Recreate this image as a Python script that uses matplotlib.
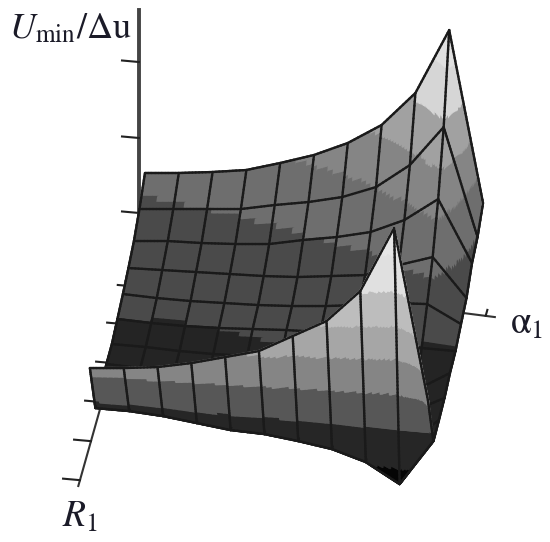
import numpy as np
import matplotlib
matplotlib.use('Agg')
import matplotlib.pyplot as plt
from mpl_toolkits.mplot3d import proj3d
from mpl_toolkits.mplot3d.art3d import Poly3DCollection

plt.rcParams['mathtext.fontset'] = 'stix'
plt.rcParams['font.family'] = 'Liberation Serif'

# surface heights, rows along R1, columns along alpha1
alpha1 = np.arange(11)
R1 = np.arange(11)
U = np.array([
    [99, 102, 106, 111, 121, 132, 147, 168, 203, 269, 99],
    [82.5, 85.5, 88.5, 91.5, 98.5, 104.5, 112.5, 125.5, 150.5, 191.5, 84.5],
    [70, 73, 74, 76, 79, 86, 92, 100, 115, 139, 78],
    [62.5, 63.5, 64.5, 65.5, 66.5, 68.5, 72.5, 76.5, 89.5, 100.5, 62.5],
    [56, 55, 55, 56, 57, 59, 62, 66, 71, 73, 56],
    [50.5, 49.5, 49.5, 50.5, 52.5, 54.5, 55.5, 55.5, 53.5, 48.5, 48.5],
    [45, 45, 44, 44, 45, 46, 47, 45, 38, 26, 46],
    [44.5, 43.5, 42.5, 41.5, 40.5, 38.5, 36.5, 33.5, 29.5, 23.5, 40.5],
    [42, 41, 40, 39, 37, 35, 32, 27, 20, 10, 38],
    [39.5, 39.5, 37.5, 33.5, 29.5, 28.5, 24.5, 19.5, 9.5, -9.5, 36.5],
    [99, 102, 106, 113, 122, 131, 149, 167, 200, 266, 97],
])

band_edges = [8, 50, 88, 126, 162, 200, 240]
back_grays = [0.02, 0.14, 0.29, 0.43, 0.52, 0.63, 0.84, 0.88]
# the last strip of cells faces the light and comes out brighter
front_grays = [0.02, 0.15, 0.34, 0.52, 0.65, 0.74, 0.88, 0.9]

U_ticks = [58.5, 133.5, 209.5]
R_ticks = [0.77, 2.7, 4.7, 6.7, 8.7, 10.7]

elev = 34.1
azim = -81.0
box_x, box_y, box_z = 342.0, 352.0, 362.0
zmax = 300.0

fig = plt.figure(figsize=(5.5, 5.42), dpi=100)
ax = fig.add_axes([0, 0, 1, 1], projection='3d', proj_type='ortho')
ax.computed_zorder = False
ax.view_init(elev=elev, azim=azim)
ax.set_xlim(0, 10)
ax.set_ylim(10, 0)
ax.set_zlim(0, zmax)
ax.set_box_aspect((box_x, box_y, box_z))
ax.set_axis_off()

# each mesh cell is split so the height bands can run across it, steep cells get more pieces
polys = []
colors = []
for j in range(len(R1) - 1):
    grays = front_grays if j == len(R1) - 2 else back_grays
    for i in range(len(alpha1) - 1):
        z00, z10, z01, z11 = U[j, i], U[j, i + 1], U[j + 1, i], U[j + 1, i + 1]
        na = int(np.clip(max(abs(z10 - z00), abs(z11 - z01)) / 3, 6, 50))
        nb = int(np.clip(max(abs(z01 - z00), abs(z11 - z10)) / 3, 6, 70))
        ta = np.linspace(0, 1, na + 1)
        tb = np.linspace(0, 1, nb + 1)
        for b in range(nb):
            for a in range(na):
                q = []
                for (u, v) in [(ta[a], tb[b]), (ta[a + 1], tb[b]), (ta[a + 1], tb[b + 1]), (ta[a], tb[b + 1])]:
                    zz = z00 * (1 - u) * (1 - v) + z10 * u * (1 - v) + z01 * (1 - u) * v + z11 * u * v
                    q.append((alpha1[i] + u, R1[j] + v, zz))
                zmean = np.mean([p[2] for p in q])
                g = grays[np.searchsorted(band_edges, zmean)]
                polys.append(q)
                colors.append((g, g, g, 1))

# mesh lines go in the same collection, nudged towards the eye so depth sorting hides them properly
d = 8.0
er = np.radians(elev)
ar = np.radians(azim)
off = np.array([np.cos(er) * np.cos(ar) * d / 34.2, -np.cos(er) * np.sin(ar) * d / 35.2, np.sin(er) * d / 1.208])
line_col = (0.1, 0.1, 0.1, 1)


def add_mesh_edge(x0, y0, z0, x1, y1, z1):
    n = int(np.clip(abs(z1 - z0) / 3, 10, 70))
    t = np.linspace(0, 1, n + 1)
    for a in range(n):
        p = np.array([x0 + (x1 - x0) * t[a], y0 + (y1 - y0) * t[a], z0 + (z1 - z0) * t[a]]) + off
        r = np.array([x0 + (x1 - x0) * t[a + 1], y0 + (y1 - y0) * t[a + 1], z0 + (z1 - z0) * t[a + 1]]) + off
        polys.append([tuple(p), tuple(r), tuple(r), tuple(p)])
        colors.append(line_col)


for j in range(len(R1)):
    for i in range(len(alpha1) - 1):
        add_mesh_edge(alpha1[i], R1[j], U[j, i], alpha1[i + 1], R1[j], U[j, i + 1])
for i in range(len(alpha1)):
    for j in range(len(R1) - 1):
        add_mesh_edge(alpha1[i], R1[j], U[j, i], alpha1[i], R1[j + 1], U[j + 1, i])

surf = Poly3DCollection(polys, facecolors=colors, edgecolors=colors, linewidths=1.7,
                        joinstyle='round', capstyle='round', zorder=3, clip_on=False)
ax.add_collection3d(surf, autolim=False)

# axes drawn by hand, the box of the 3D axes is off
ax0 = -0.18
ax.plot([ax0, ax0], [0, 0], [0, 262], color='#444444', lw=2.8, zorder=1, clip_on=False)
ax.plot([ax0, ax0], [0, 11], [0, 0], color='#333333', lw=1.5, zorder=1, clip_on=False)
ax.plot([ax0, 10.35], [0, 0], [0, -14], color='#333333', lw=1.5, zorder=1, clip_on=False)
for v in U_ticks:
    ax.plot([ax0, ax0 - 0.5], [0, 0], [v, v], color='#222222', lw=1.5, zorder=1, clip_on=False)
for v in R_ticks:
    ax.plot([ax0, ax0 - 0.5], [v, v], [0, 0], color='#222222', lw=1.5, zorder=1, clip_on=False)
ax.plot([10.08, 10.08], [0, -0.3], [-13.5, -13.5], color='#222222', lw=1.5, zorder=1, clip_on=False)

# put the axes so that the mesh lands at the right pixels
fig.canvas.draw()


def to_px(x, y, z):
    px, py, _ = proj3d.proj_transform(x, y, z, ax.get_proj())
    return ax.transData.transform((px, py))


p0 = to_px(0, 0, 0)
p1 = to_px(10, 0, 0)
s = (483.0 - 145.0) / (p1[0] - p0[0])
bb = ax.get_position()
w = 550.0
h = 542.0
S0 = min(bb.width * w, bb.height * h)
c0 = np.array([(bb.x0 + bb.width / 2) * w, (bb.y0 + bb.height / 2) * h])
target = np.array([145.0, 542.0 - 272.0])
c = target - (p0 - c0) * s
S = S0 * s
ax.set_position([(c[0] - S / 2) / w, (c[1] - S / 2) / h, S / w, S / h])

txt = '#1b1b28'
fig.text(9 / w, 1 - 38 / h, r'$U_{\mathrm{min}}/\Delta\mathrm{u}$', fontsize=26, color=txt, ha='left', va='baseline')
fig.text(62 / w, 1 - 527 / h, r'$R_1$', fontsize=27, color=txt, ha='left', va='baseline')
fig.text(510 / w, 1 - 334 / h, r'$\mathrm{\alpha}_1$', fontsize=27, color=txt, ha='left', va='baseline')

fig.savefig('out.png', dpi=100)
